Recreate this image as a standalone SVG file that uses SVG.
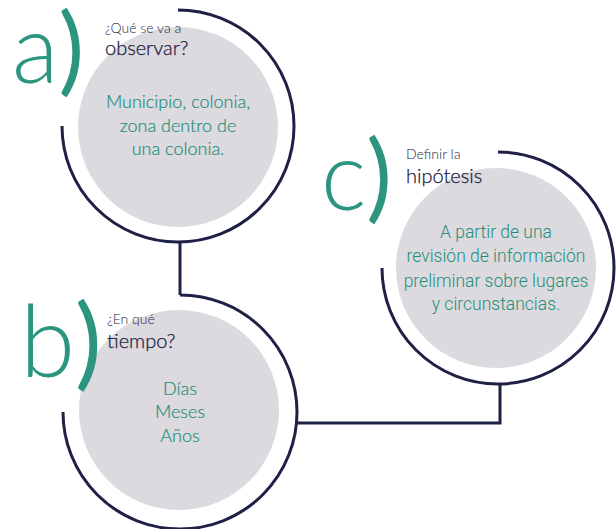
<svg xmlns="http://www.w3.org/2000/svg" width="616" height="529" viewBox="0 0 616 529">
<style>
.ring{fill:none;stroke:#1e2046;stroke-width:3}
.disc{fill:#dcd9df}
.big{font-family:Lato,"Liberation Sans",sans-serif;font-weight:300;fill:#2c9580}
.par{font-weight:400}
.q1{font-family:Lato,"Liberation Sans",sans-serif;font-weight:300;font-size:14px;fill:#1e1f45}
.q2{font-family:Lato,"Liberation Sans",sans-serif;font-weight:300;font-size:20px;fill:#1a1b40;stroke:#1a1b40;stroke-width:0.25}
.body{font-family:Lato,"Liberation Sans",sans-serif;font-weight:300;font-size:18px;fill:#22907a;stroke:#22907a;stroke-width:0.2;text-anchor:middle}
.body2{font-family:Roboto,"Liberation Sans",sans-serif;font-weight:300;font-size:17.5px;fill:#22907a;text-anchor:middle}
</style>
<rect width="616" height="529" fill="#ffffff"/>
<g id="connectors">
<path class="ring" d="M180 243 V295"/>
<path class="ring" d="M296 423 H500 V384"/>
</g>
<g id="node-a">
<circle class="disc" cx="178" cy="127" r="100"/>
<path class="ring" d="M178 10 A116 116 0 1 1 62 126"/>
<text class="big" x="12" y="83" font-size="96">a<tspan class="par">)</tspan></text>
<text class="q1" x="105" y="33">¿Qué se va a</text>
<text class="q2" x="105" y="55">observar?</text>
<text class="body" x="178" y="108">Municipio, colonia,</text>
<text class="body" x="178" y="132">zona dentro de</text>
<text class="body" x="178" y="155">una colonia.</text>
</g>
<g id="node-b">
<circle class="disc" cx="179" cy="410" r="100"/>
<path class="ring" d="M180 295 A117 117 0 1 1 63 412"/>
<text class="big" x="20" y="377" font-size="100">b<tspan class="par">)</tspan></text>
<text class="q1" x="107" y="324">¿En qué</text>
<text class="q2" x="107" y="348">tiempo?</text>
<text class="body" x="180" y="395">Días</text>
<text class="body" x="180" y="418">Meses</text>
<text class="body" x="180" y="442">Años</text>
</g>
<g id="node-c">
<circle class="disc" cx="496" cy="268" r="100"/>
<path class="ring" d="M498 152 A116 116 0 1 1 382 268"/>
<text class="big" x="321" y="210" font-size="96">c<tspan class="par">)</tspan></text>
<text class="q1" x="406" y="159">Definir la</text>
<text class="q2" x="406" y="183">hipótesis</text>
<text class="body2" x="496" y="238">A partir de una</text>
<text class="body2" x="496" y="262">revisión de información</text>
<text class="body2" x="496" y="287">preliminar sobre lugares</text>
<text class="body2" x="496" y="310">y circunstancias.</text>
</g>
</svg>
